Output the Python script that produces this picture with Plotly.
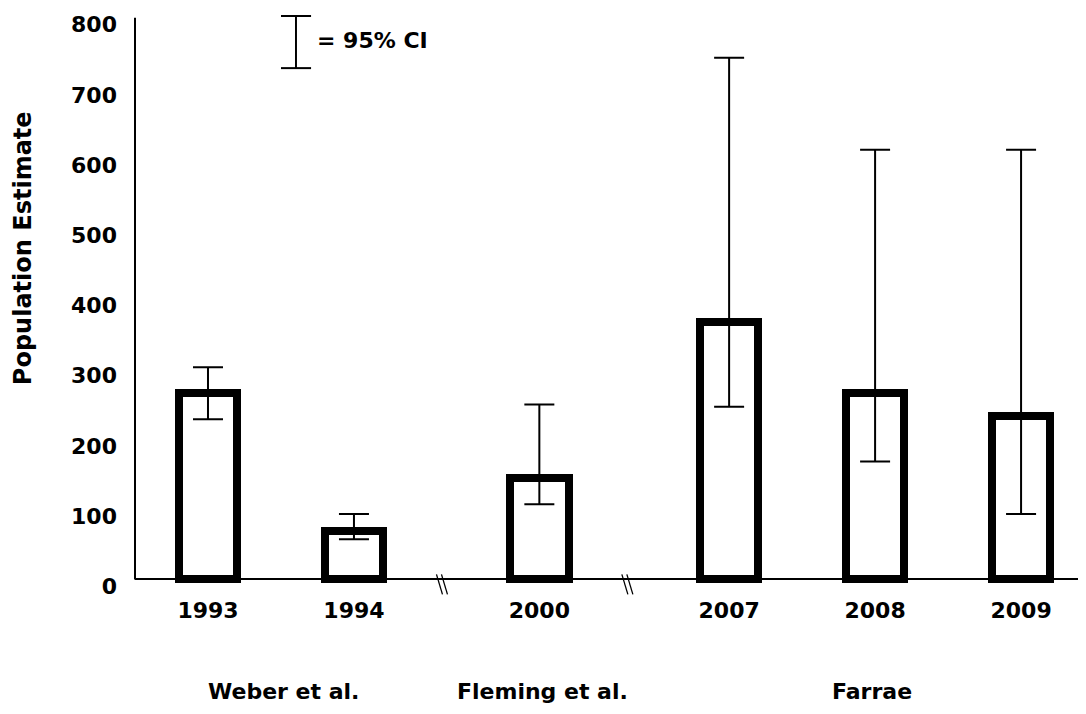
import plotly.graph_objects as go

# ---- data ----
years = ["1993", "1994", "2000", "2007", "2008", "2009"]
estimates = [265, 69, 145, 367, 265, 233]
ci_upper = [302, 93, 249, 743, 612, 612]
ci_lower = [228, 57, 107, 246, 168, 93]
groups = ["Weber et al.", "Fleming et al.", "Farrae"]
y_ticks = [0, 100, 200, 300, 400, 500, 600, 700, 800]

# ---- layout positions (not data) ----
slot_x = [0.5, 1.5, 2.77, 4.07, 5.07, 6.07]
group_x = [1.02, 2.79, 5.05]
break_x = [2.12, 3.39]

FONT = "DejaVu Sans"

err_plus = [u - e for u, e in zip(ci_upper, estimates)]
err_minus = [e - l for e, l in zip(estimates, ci_lower)]

fig = go.Figure(
    go.Bar(
        x=slot_x,
        y=estimates,
        width=0.40,
        marker=dict(color="white", line=dict(color="black", width=8)),
        error_y=dict(
            type="data",
            symmetric=False,
            array=err_plus,
            arrayminus=err_minus,
            color="black",
            thickness=2,
            width=15,
        ),
        showlegend=False,
        hoverinfo="skip",
    )
)

shapes = []
# y axis line (0 -> 800)
shapes.append(dict(type="line", xref="paper", yref="y", x0=0, x1=0, y0=0, y1=800,
                   line=dict(color="black", width=2)))
# axis break marks
for bx in break_x:
    for dx in (-5, 0):
        shapes.append(dict(type="line", xref="x", yref="paper",
                           xsizemode="pixel", xanchor=bx,
                           ysizemode="pixel", yanchor=0.0099,
                           x0=dx - 3, x1=dx + 3, y0=5, y1=-15,
                           line=dict(color="black", width=1.3)))
# CI legend glyph
lx, lx0, lx1 = 0.1707, 0.1548, 0.1867
ly0, ly1 = 0.910, 1.0018
shapes.append(dict(type="line", xref="paper", yref="paper", x0=lx, x1=lx, y0=ly0, y1=ly1,
                   line=dict(color="black", width=2)))
for yy in (ly0, ly1):
    shapes.append(dict(type="line", xref="paper", yref="paper", x0=lx0, x1=lx1, y0=yy, y1=yy,
                       line=dict(color="black", width=2)))

annotations = [
    dict(text="= 95% CI", xref="paper", yref="paper", x=0.1909, y=0.9595,
         xanchor="left", yanchor="middle", showarrow=False,
         font=dict(family=FONT, size=22, color="black", weight="bold")),
    dict(text="Population Estimate", xref="paper", yref="paper", x=-0.1188, y=0.593,
         xanchor="center", yanchor="middle", textangle=-90, showarrow=False,
         font=dict(family=FONT, size=24, color="black", weight="bold")),
]
for gx, g in zip(group_x, groups):
    annotations.append(dict(text=g, xref="x", yref="paper", x=gx, y=-0.188,
                            xanchor="center", yanchor="middle", showarrow=False,
                            font=dict(family=FONT, size=22, color="black", weight="bold")))

fig.update_layout(
    width=1078,
    height=706,
    margin=dict(l=127, r=8, t=9, b=129, autoexpand=False),
    paper_bgcolor="white",
    plot_bgcolor="white",
    font=dict(family=FONT, size=22, color="black", weight="bold"),
    shapes=shapes,
    annotations=annotations,
    bargap=0,
    xaxis=dict(
        range=[0, 6.46],
        tickmode="array",
        tickvals=slot_x,
        ticktext=years,
        showgrid=False,
        zeroline=False,
        showline=False,
        ticks="",
        automargin=False,
        ticklabelstandoff=10,
        tickfont=dict(family=FONT, size=22, color="black", weight="bold"),
    ),
    yaxis=dict(
        range=[-8, 801],
        tickmode="array",
        tickvals=y_ticks,
        showgrid=False,
        zeroline=True,
        zerolinecolor="black",
        zerolinewidth=2,
        showline=False,
        ticks="",
        automargin=False,
        ticklabelshift=7,
        ticklabelstandoff=17,
        ticklabeloverflow="allow",
        tickfont=dict(family=FONT, size=22, color="black", weight="bold"),
    ),
)

fig.write_html("out.html")
